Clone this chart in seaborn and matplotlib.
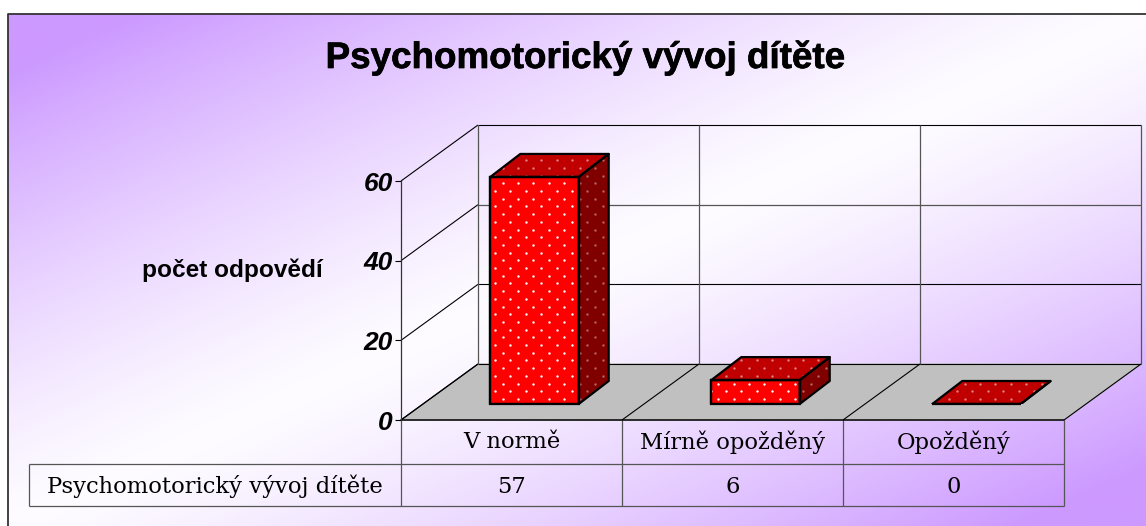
import numpy as np
import pandas as pd
import matplotlib
matplotlib.use('Agg')
import matplotlib.pyplot as plt
import matplotlib.patheffects as pe
import seaborn as sns

categories = ['V normě', 'Mírně opožděný', 'Opožděný']
values = [57, 6, 0]
series_name = 'Psychomotorický vývoj dítěte'
y_ticks = [0, 20, 40, 60]
title = 'Psychomotorický vývoj dítěte'
y_label = 'počet odpovědí'

W, H = 1146, 526
FRONT_L, FRONT_R, FRONT_B, FRONT_T = 401, 1064, 420, 181  # y axis plane
DEPTH_X, DEPTH_Y = 77, 56                                 # floor depth
BAR_SHIFT_X, BAR_SHIFT_Y = 23, 16                         # bars sit mid floor
BAR_DX, BAR_DY = 30, 23                                   # bar depth
PX_PER_UNIT = (FRONT_B - FRONT_T) / 60
ROW_1, ROW_2 = 464, 506
HEAD_L = 29

sns.set_theme(style='white')
plt.rcParams['font.family'] = ['Liberation Sans', 'DejaVu Sans']
fig = plt.figure(figsize=(W / 100, H / 100), dpi=100, facecolor='white')


def px_axes(left, right, bottom, top, **kw):
    return fig.add_axes([left / W, 1 - bottom / H, (right - left) / W, (bottom - top) / H], **kw)


# ---- background, walls and floor in pixel coordinates
bg = px_axes(0, W, H, 0, zorder=0)
bg.axis('off')

xx, yy = np.meshgrid(np.linspace(0, 1, 400), np.linspace(0, 1, 250))
v = np.abs(xx + yy - 1)
v = np.clip(1.12 * v ** 1.3 + 0.03, 0, 1)[..., None]
purple = np.array([0xcc, 0x99, 0xff]) / 255
grad = (1 - v) * np.ones(3) + v * purple
bg.imshow(grad, extent=(8, W, H, 14), aspect='auto', interpolation='bilinear', zorder=0)
bg.set_xlim(0, W)
bg.set_ylim(H, 0)
bg.plot([8, 8, W], [H, 14, 14], color='#333333', lw=1.3, zorder=1)

line = dict(color='black', lw=0.8, zorder=3, solid_capstyle='butt')
grey = dict(color='#555555', lw=0.9, zorder=3, solid_capstyle='butt')
col_w = (FRONT_R - FRONT_L) / 3

bg.fill([FRONT_L, FRONT_L + DEPTH_X, FRONT_R + DEPTH_X, FRONT_R],
        [FRONT_B, FRONT_B - DEPTH_Y, FRONT_B - DEPTH_Y, FRONT_B], color='#c0c0c0', zorder=2)
for t in y_ticks:
    y = FRONT_B - t * PX_PER_UNIT
    bg.plot([FRONT_L, FRONT_L + DEPTH_X], [y, y - DEPTH_Y], **line)
    bg.plot([FRONT_L + DEPTH_X, FRONT_R + DEPTH_X], [y - DEPTH_Y, y - DEPTH_Y],
            **(grey if t == 40 else line))
for i in range(4):
    x = FRONT_L + i * col_w
    bg.plot([x, x + DEPTH_X], [FRONT_B, FRONT_B - DEPTH_Y], **line)
    bg.plot([x + DEPTH_X, x + DEPTH_X], [FRONT_B - DEPTH_Y, FRONT_T - DEPTH_Y], **grey)
    bg.plot([x, x], [FRONT_B, ROW_2], **grey)
bg.plot([FRONT_L, FRONT_R], [FRONT_B, FRONT_B], color='black', lw=1.1, zorder=3)
bg.plot([HEAD_L, FRONT_R], [ROW_1, ROW_1], **grey)
bg.plot([HEAD_L, FRONT_R], [ROW_2, ROW_2], **grey)
bg.plot([HEAD_L, HEAD_L], [ROW_1, ROW_2], **grey)

# ---- table text
serif = dict(family='DejaVu Serif', fontsize=16.3, color='black', va='center', zorder=4)
bg.text((HEAD_L + FRONT_L) / 2, (ROW_1 + ROW_2) / 2 + 1, series_name, ha='center', **serif)
for i, (c, val) in enumerate(zip(categories, values)):
    cx = FRONT_L + (i + 0.5) * col_w
    bg.text(cx, (FRONT_B + ROW_1) / 2, c, ha='center', **serif)
    bg.text(cx, (ROW_1 + ROW_2) / 2 + 2, str(val), ha='center', **serif)

bold = [pe.withStroke(linewidth=0.5, foreground='black')]
bg.text(585, 58, title, fontsize=26.5, fontweight='bold', ha='center', va='center',
        color='black', path_effects=bold)
bg.text(232, 270, y_label, fontsize=17.6, fontweight='bold', ha='center', va='center', color='black')

# ---- y axis on the front plane
ax_front = px_axes(FRONT_L, FRONT_R, FRONT_B, FRONT_T, zorder=1)
ax_front.patch.set_alpha(0)
ax_front.set_ylim(0, 60)
ax_front.set_xticks([])
ax_front.set_yticks(y_ticks)
ax_front.set_yticklabels([str(t) for t in y_ticks], fontsize=19, fontweight='bold', fontstyle='italic')
ax_front.tick_params(axis='y', left=True, length=4, width=0.8, color='black', pad=2, labelcolor='black')
sns.despine(ax=ax_front, top=True, right=True, bottom=True)
ax_front.spines['left'].set_color('#333333')
ax_front.spines['left'].set_linewidth(0.9)

# ---- bars on a plane shifted back into the floor
BAR_B = FRONT_B - BAR_SHIFT_Y
bar_l = FRONT_L + BAR_SHIFT_X
ax_bar = px_axes(bar_l, bar_l + (FRONT_R - FRONT_L), BAR_B, BAR_B - 70 * PX_PER_UNIT, zorder=2)
df = pd.DataFrame({'kategorie': categories, 'pocet': values})
sns.barplot(data=df, x='kategorie', y='pocet', ax=ax_bar, color='#ff0000', saturation=1,
            width=0.4, edgecolor='black', linewidth=1.6, zorder=3)
ax_bar.set_xlim(-0.5, 2.5)
ax_bar.set_ylim(0, 70)
ax_bar.axis('off')
ax_bar.patch.set_alpha(0)

dx = BAR_DX / col_w
dy = BAR_DY / PX_PER_UNIT

# dot pattern of the fill, aligned to the screen
gx, gy = np.meshgrid(np.arange(502.7 - 15.4 * 8, 1146, 15.4), np.arange(183.3 - 15.4 * 6, 420, 15.4))
px_x = np.r_[gx.ravel(), gx.ravel() + 7.7]
px_y = np.r_[gy.ravel(), gy.ravel() + 7.7]
dots = ax_bar.transData.inverted().transform(np.c_[px_x, H - px_y])


def add_dots(poly, alpha):
    sc = ax_bar.scatter(dots[:, 0], dots[:, 1], s=3, color='white', alpha=alpha, linewidths=0, zorder=poly.get_zorder())
    sc.set_clip_path(poly)


for bar in list(ax_bar.patches):
    x0, w, h = bar.get_x(), bar.get_width(), bar.get_height()
    x1 = x0 + w
    bar.set_clip_on(False)
    add_dots(bar, 1.0)
    bar.set_zorder(3)
    side = plt.Polygon([(x1, 0), (x1 + dx, dy), (x1 + dx, h + dy), (x1, h)], closed=True,
                       facecolor='#800000', edgecolor='none', zorder=2.5)
    top = plt.Polygon([(x0, h), (x0 + dx, h + dy), (x1 + dx, h + dy), (x1, h)], closed=True,
                      facecolor='#c00000', edgecolor='none', zorder=2.5)
    ax_bar.add_patch(side)
    ax_bar.add_patch(top)
    add_dots(side, 0.4)
    add_dots(top, 0.5)
    for p in (side, top):
        ax_bar.add_patch(plt.Polygon(p.get_xy(), closed=True, fill=False, edgecolor='black',
                                     linewidth=1.6, joinstyle='round', zorder=4))
    ax_bar.add_patch(plt.Rectangle((x0, 0), w, h, fill=False, edgecolor='black', linewidth=1.6, zorder=4))

fig.savefig('out.png', dpi=100)
